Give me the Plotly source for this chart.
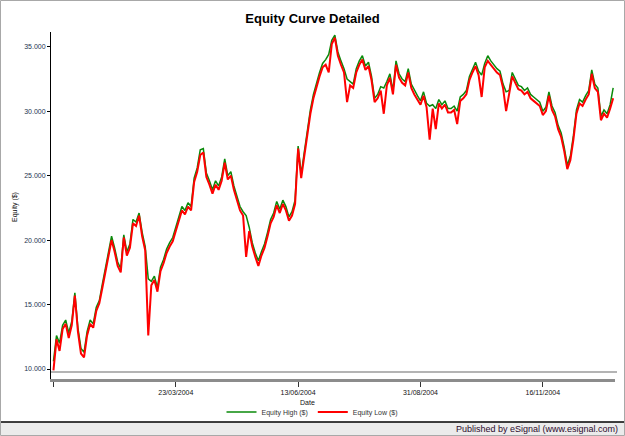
import plotly.graph_objects as go

# ---- data ----
equity_low = [
    9900, 12300, 11400, 13100, 13500, 12400, 13400, 15700, 12900, 11200,
    10900, 12600, 13500, 13200, 14500, 15100, 16300, 17600, 18600, 20000,
    19100, 18000, 17500, 20200, 18800, 19400, 21300, 21100, 21900, 20300,
    19200, 12600, 16500, 16900, 16000, 17600, 18200, 19000, 19500, 19900,
    20700, 21600, 22300, 22000, 22600, 22300, 24500, 25300, 26600, 26800,
    24900, 24300, 23600, 24300, 23900, 24600, 26000, 24700, 25000, 23900,
    23100, 22300, 21900, 18700, 20700, 19500, 18700, 18000, 18800, 19400,
    20300, 21300, 21800, 22700, 22100, 22800, 22300, 21500, 21900, 22800,
    27100, 24800, 26500, 28300, 29800, 31000, 31900, 32700, 33400, 33600,
    33000, 35200, 35700, 34300, 33600, 33000, 30700, 32000, 31800, 33000,
    33600, 34000, 33200, 33500, 32400, 30700, 31000, 31600, 29800, 32000,
    32600, 31300, 33600, 32600, 32200, 32000, 33000, 31800, 31300, 30900,
    30500, 31200, 30300, 27800, 30200, 28600, 30600, 30200, 30500, 29900,
    29900, 30100, 29000, 30800, 31000, 31300, 32400, 33000, 33500, 32800,
    31100, 33400, 33900, 33600, 33300, 33000, 32800, 31800, 30000, 31300,
    32700, 32200, 31700, 31600, 31300, 31500, 31000, 30800, 30600, 30400,
    29700, 30000, 31200, 30100, 29600, 28600, 28000, 26900, 25500, 26200,
    27800, 29800, 30600, 30400, 30900, 31300, 32900, 31800, 31500, 29300,
    29800, 29500, 30200, 31000,
]
equity_high = [
    10600, 12600, 12000, 13400, 13800, 12800, 13700, 15900, 13200, 11600,
    11300, 12900, 13800, 13500, 14800, 15300, 16600, 17900, 18900, 20300,
    19400, 18300, 17800, 20400, 19100, 19700, 21600, 21400, 22100, 20600,
    19500, 17000, 16800, 17200, 16300, 17900, 18500, 19300, 19800, 20200,
    21000, 21900, 22600, 22300, 22900, 22600, 24800, 25600, 27000, 27100,
    25200, 24600, 23900, 24600, 24200, 24900, 26300, 25000, 25300, 24200,
    23400, 22600, 22200, 21900, 21000, 19800, 19000, 18400, 19100, 19700,
    20600, 21600, 22100, 23000, 22400, 23100, 22600, 21800, 22200, 23100,
    27300, 25100, 26800, 28600, 30100, 31300, 32200, 33000, 33700, 34000,
    34400, 35500, 35900, 34600, 33900, 33300, 32500, 32300, 32100, 33300,
    33900, 34300, 33500, 33800, 32700, 31000, 31300, 31900, 31800, 32300,
    32900, 31600, 33900, 32900, 32500, 32300, 33300, 32100, 31600, 31200,
    30800, 31500, 30600, 30400, 30500, 30200, 30900, 30500, 30800, 30200,
    30200, 30400, 30000, 31100, 31300, 31600, 32700, 33300, 33800, 33100,
    32800, 33700, 34300, 33900, 33600, 33300, 33100, 32100, 31500, 31600,
    33000, 32500, 32000, 31900, 31600, 31800, 31300, 31100, 30900, 30700,
    30000, 30300, 31500, 30400, 29900, 28900, 28300, 27200, 25800, 26500,
    28100, 30100, 30900, 30700, 31200, 31600, 33200, 32100, 31800, 29600,
    30100, 29800, 30500, 31800,
]
bar_index = list(range(len(equity_low)))
date_tick_index = [0, 40, 80, 120, 160]
date_tick_labels = ["", "23/03/2004", "13/06/2004", "31/08/2004", "16/11/2004"]
equity_ticks = [10000, 15000, 20000, 25000, 30000, 35000]
baseline_equity = 9770

# ---- layout geometry (pixels) ----
W, H = 625, 436
L, R, T, B = 51, 10, 32, 57
pw, ph = W - L - R, H - T - B


def px_x(x):
    return (x - L) / pw


def px_y(y):
    return (H - B - y) / ph


fig = go.Figure()
fig.add_trace(go.Scatter(
    x=bar_index, y=equity_high, mode="lines", name="Equity High ($)",
    line=dict(color="#0a8a0a", width=1.5),
))
fig.add_trace(go.Scatter(
    x=bar_index, y=equity_low, mode="lines", name="Equity Low ($)",
    line=dict(color="#ff0000", width=2),
))

FONT = "Liberation Sans, Arial, sans-serif"
small = dict(family=FONT, size=7, color="#111111")

fig.update_layout(
    width=W, height=H, autosize=False,
    margin=dict(l=L, r=R, t=T, b=B, pad=0, autoexpand=False),
    paper_bgcolor="white", plot_bgcolor="white",
    separators=",.",
    title=dict(
        text="Equity Curve Detailed",
        font=dict(family=FONT, size=13, color="black", weight="bold"),
        x=0.5, xref="container", xanchor="center",
        y=1 - 18 / H, yref="container", yanchor="middle",
    ),
    showlegend=True,
    legend=dict(
        orientation="h", xref="container", x=0.5, xanchor="center",
        yref="container", y=1 - 412 / H, yanchor="middle",
        font=dict(family=FONT, size=7, color="#333333"),
        bgcolor="rgba(0,0,0,0)", itemwidth=30,
    ),
    xaxis=dict(
        range=[-0.8, 183.6], showgrid=False, zeroline=False,
        showline=True, linecolor="#8c8c8c", linewidth=3,
        ticks="outside", ticklen=5, tickwidth=1, tickcolor="#333333",
        tickvals=date_tick_index, ticktext=date_tick_labels,
        tickfont=small,
    ),
    yaxis=dict(
        range=[9224, 36142], showgrid=False, zeroline=False,
        showline=True, linecolor="black", linewidth=1,
        ticks="outside", ticklen=3, tickwidth=1, tickcolor="black",
        tickvals=equity_ticks, tickformat=",.0f",
        tickfont=dict(family=FONT, size=7, color="#1e3550"),
    ),
)

# baseline reference line
fig.add_shape(type="line", xref="paper", yref="y",
              x0=0, x1=px_x(617), y0=baseline_equity, y1=baseline_equity,
              line=dict(color="#b4b4b4", width=2), layer="below")

# bottom strip + frame
fig.add_shape(type="rect", xref="paper", yref="paper",
              x0=px_x(1), x1=px_x(624), y0=px_y(435), y1=px_y(422),
              fillcolor="#ebebeb", line=dict(width=0), layer="below")
fig.add_shape(type="line", xref="paper", yref="paper",
              x0=px_x(1), x1=px_x(624), y0=px_y(422), y1=px_y(422),
              line=dict(color="black", width=1.5))
fig.add_shape(type="rect", xref="paper", yref="paper",
              x0=px_x(0.5), x1=px_x(624.5), y0=px_y(435.5), y1=px_y(0.5),
              line=dict(color="#a8a8a8", width=1), fillcolor="rgba(0,0,0,0)")

fig.add_annotation(text="Equity ($)", xref="paper", yref="paper",
                   x=px_x(15), y=px_y(207), textangle=-90, showarrow=False,
                   xanchor="center", yanchor="middle", font=small)
fig.add_annotation(text="Date", xref="paper", yref="paper",
                   x=px_x(307), y=px_y(402), showarrow=False,
                   xanchor="center", yanchor="middle", font=small)
fig.add_annotation(text="Published by eSignal (www.esignal.com)",
                   xref="paper", yref="paper", x=px_x(620), y=px_y(429),
                   showarrow=False, xanchor="right", yanchor="middle",
                   font=dict(family=FONT, size=9, color="#2d0a2d"))

fig.write_html("out.html")
